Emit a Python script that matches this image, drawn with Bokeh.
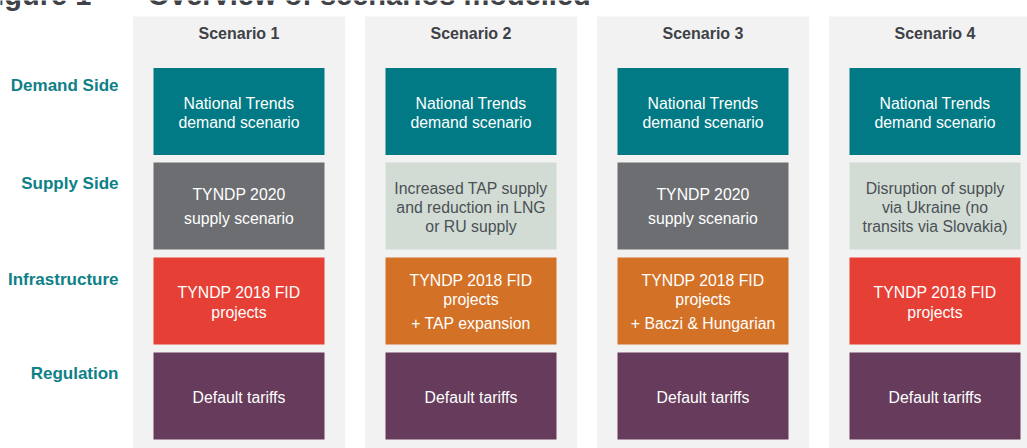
from bokeh.plotting import figure
from bokeh.models import Range1d, ColumnDataSource
from bokeh.core.properties import value
from bokeh.embed import file_html
from bokeh.resources import INLINE

# ---------------- data ----------------
title_number = "Figure 1"
title_text = "Overview of scenarios modelled"
scenarios = ["Scenario 1", "Scenario 2", "Scenario 3", "Scenario 4"]
row_labels = ["Demand Side", "Supply Side", "Infrastructure", "Regulation"]

demand_texts = [
    ["National Trends", "demand scenario"],
    ["National Trends", "demand scenario"],
    ["National Trends", "demand scenario"],
    ["National Trends", "demand scenario"],
]
supply_texts = [
    ["TYNDP 2020", "supply scenario"],
    ["Increased TAP supply", "and reduction in LNG", "or RU supply"],
    ["TYNDP 2020", "supply scenario"],
    ["Disruption of supply", "via Ukraine (no", "transits via Slovakia)"],
]
infra_texts = [
    ["TYNDP 2018 FID", "projects"],
    ["TYNDP 2018 FID", "projects", "+ TAP expansion"],
    ["TYNDP 2018 FID", "projects", "+ Baczi & Hungarian"],
    ["TYNDP 2018 FID", "projects"],
]
regulation_texts = [
    ["Default tariffs"],
    ["Default tariffs"],
    ["Default tariffs"],
    ["Default tariffs"],
]
# box type per row / scenario
demand_kind = ["demand", "demand", "demand", "demand"]
supply_kind = ["supply_base", "supply_alt", "supply_base", "supply_alt"]
infra_kind = ["infra_base", "infra_ext", "infra_ext", "infra_base"]
regulation_kind = ["regulation", "regulation", "regulation", "regulation"]

# ---------------- styles / layout ----------------
kind_fill = {
    "demand": "#017A86",
    "supply_base": "#6D6E71",
    "supply_alt": "#D2DCD4",
    "infra_base": "#E63F35",
    "infra_ext": "#D37227",
    "regulation": "#663B5B",
}
kind_text = {
    "demand": "#FFFFFF",
    "supply_base": "#FFFFFF",
    "supply_alt": "#4A5055",
    "infra_base": "#FFFFFF",
    "infra_ext": "#FFFFFF",
    "regulation": "#FFFFFF",
}
W, H = 1027, 448
col_step = 232.0
col0 = 238.5
col_half = 106.0
col_top = 16.0
box_half = 85.5
row_tops = [67.5, 162.0, 257.0, 352.0]
box_h = 87.0
row_label_y = [85, 183, 279, 373]
header_y = 33


def offsets(row, n):
    if n == 1:
        return [1.5]
    if n == 2:
        if row == 1:
            return [-11.5, 12.5]
        return [-8.5, 11.0]
    if row == 2:
        return [-21.0, -1.5, 22.5]
    return [-17.5, 1.5, 20.5]


FONT = "Liberation Sans"

p = figure(width=W, height=H, output_backend="svg", toolbar_location=None,
           x_range=Range1d(0, W), y_range=Range1d(H, 0),
           min_border=0, min_border_left=0, min_border_right=0,
           min_border_top=0, min_border_bottom=0)
p.axis.visible = False
p.grid.visible = False
p.outline_line_color = None
p.background_fill_color = "white"
p.border_fill_color = "white"

centers = [col0 + i * col_step for i in range(len(scenarios))]

# grey scenario columns
p.quad(left=[c - col_half for c in centers], right=[c + col_half for c in centers],
       top=[col_top] * 4, bottom=[H + 5] * 4, fill_color="#F2F2F2", line_color=None)

# headers
p.text(x=centers, y=[header_y] * 4, text=scenarios, text_font=value(FONT),
       text_font_size="16px", text_font_style="bold", text_color="#3E4145",
       text_align="center", text_baseline="middle")

# row labels
p.text(x=[118] * 4, y=row_label_y, text=row_labels, text_font=value(FONT),
       text_font_size="17px", text_font_style="bold", text_color="#0E8088",
       text_align="right", text_baseline="middle")

# title (cut off at top like reference)
p.text(x=[-22, 147], y=[-6, -6], text=[title_number, title_text], text_font=value(FONT),
       text_font_size="29px", text_font_style="bold", text_color="#3F4246",
       text_align="left", text_baseline="middle")

rows_texts = [demand_texts, supply_texts, infra_texts, regulation_texts]
rows_kinds = [demand_kind, supply_kind, infra_kind, regulation_kind]

bl, br, bt, bb, bc = [], [], [], [], []
tx, ty, tt, tc = [], [], [], []
for r, (texts, kinds) in enumerate(zip(rows_texts, rows_kinds)):
    top = row_tops[r]
    cy = top + box_h / 2
    for i, c in enumerate(centers):
        bl.append(c - box_half)
        br.append(c + box_half)
        bt.append(top)
        bb.append(top + box_h)
        bc.append(kind_fill[kinds[i]])
        lines = texts[i]
        for ln, off in zip(lines, offsets(r, len(lines))):
            tx.append(c)
            ty.append(cy + off)
            tt.append(ln)
            tc.append(kind_text[kinds[i]])

boxes = ColumnDataSource(dict(left=bl, right=br, top=bt, bottom=bb, color=bc))
p.quad(left="left", right="right", top="top", bottom="bottom", fill_color="color",
       line_color=None, source=boxes)

labels = ColumnDataSource(dict(x=tx, y=ty, text=tt, color=tc))
p.text(x="x", y="y", text="text", text_color="color", source=labels,
       text_font=value(FONT), text_font_size="15.8px", text_align="center",
       text_baseline="middle")

open("out.html", "w").write(file_html(p, INLINE))
